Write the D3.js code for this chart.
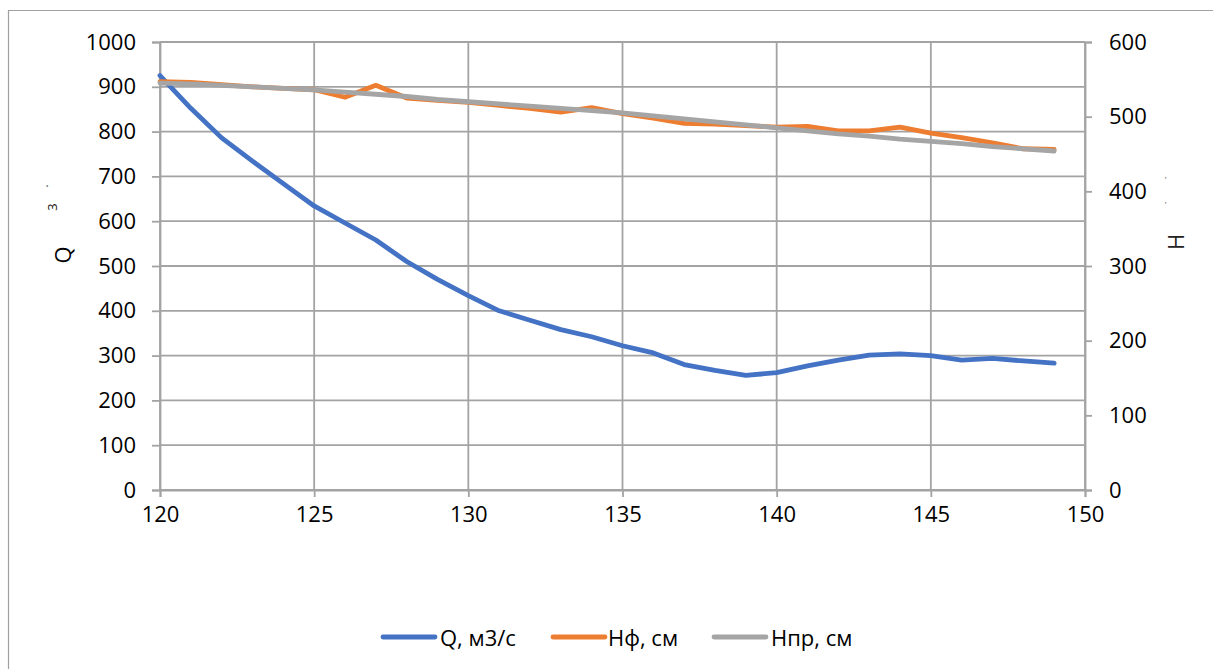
<!DOCTYPE html>
<html>
<head>
<meta charset="utf-8">
<script src="https://cdn.jsdelivr.net/npm/d3@7"></script>
<style>
  html, body { margin: 0; padding: 0; background: #fff; overflow: hidden; }
  svg { display: block; }
  svg text { font-family: "Open Sans", "Liberation Sans", sans-serif; fill: #000; }
</style>
</head>
<body>
<svg id="chart" width="1213" height="669"></svg>
<script>
// Abscissa values (cross-section / station numbers)
const xValues = [120,121,122,123,124,125,126,127,128,129,130,131,132,133,134,
                 135,136,137,138,139,140,141,142,143,144,145,146,147,148,149];

// Discharge Q, m3/s (left axis)
const qValues = [925,852,786,734,684,634,596,558,510,470,434,400,379,358,342,
                 322,306,280,267,256,262,277,290,301,304,300,290,294,288,283];

// Observed level Hф, cm (right axis)
const hfValues = [547,546,543,540,538,536,526,542,525,522,519,515,511,506,512,
                  504,498,491,490,488,486,487,481,481,486,478,472,465,457,456];

// Predicted level Hпр, cm (right axis)
const hpValues = [545,544,542,540,538,536,533,530,527,523,520,517,514,511,508,
                  505,501,497,493,489,485,481,477,474,470,467,464,460,457,454];

const xTicks = [120,125,130,135,140,145,150];
const leftTicks = [0,100,200,300,400,500,600,700,800,900,1000];
const rightTicks = [0,100,200,300,400,500,600];

const seriesNames = ["Q, м3/с", "Hф, см", "Hпр, см"];
const seriesColors = ["#4472C4", "#ED7D31", "#A5A5A5"];

const svg = d3.select("#chart");
const plot = { left: 160, right: 1085, top: 42, bottom: 490 };
const gridColor = "#a3a3a3";

// outer chart frame: only its left and top edges are in view
svg.append("path")
  .attr("d", "M8.5,669 V10.5 H1213")
  .attr("fill", "none").attr("stroke", "#a0a0a0").attr("stroke-width", 1.2);

const x = d3.scaleLinear().domain([120, 150]).range([plot.left, plot.right]);
const yL = d3.scaleLinear().domain([0, 1000]).range([plot.bottom, plot.top]);
const yR = d3.scaleLinear().domain([0, 600]).range([plot.bottom, plot.top]);

// horizontal gridlines
svg.append("g").selectAll("line").data(leftTicks).join("line")
  .attr("x1", plot.left).attr("x2", plot.right)
  .attr("y1", d => yL(d)).attr("y2", d => yL(d))
  .attr("stroke", gridColor).attr("stroke-width", 1.8);

// vertical gridlines
svg.append("g").selectAll("line").data(xTicks).join("line")
  .attr("x1", d => x(d)).attr("x2", d => x(d))
  .attr("y1", plot.top).attr("y2", plot.bottom)
  .attr("stroke", gridColor).attr("stroke-width", 1.8);

function styleAxis(g) {
  g.select(".domain").attr("stroke", gridColor).attr("stroke-width", 1.8);
  g.selectAll(".tick line").attr("stroke", gridColor).attr("stroke-width", 1.8);
  g.selectAll(".tick text")
    .attr("font-size", 22)
    .attr("fill", "#000");
}

// left axis
const gL = svg.append("g").attr("transform", `translate(${plot.left},0)`)
  .call(d3.axisLeft(yL).tickValues(leftTicks).tickSize(8).tickPadding(16).tickFormat(d3.format("d")));
styleAxis(gL);

// right axis
const gR = svg.append("g").attr("transform", `translate(${plot.right},0)`)
  .call(d3.axisRight(yR).tickValues(rightTicks).tickSize(7).tickPadding(17).tickFormat(d3.format("d")));
styleAxis(gR);

// bottom axis
const gB = svg.append("g").attr("transform", `translate(0,${plot.bottom})`)
  .call(d3.axisBottom(x).tickValues(xTicks).tickSize(7).tickPadding(9).tickFormat(d3.format("d")));
styleAxis(gB);

// axis titles
function vText(cx, cy, txt, size, fill) {
  svg.append("text")
    .attr("transform", `translate(${cx},${cy}) rotate(-90)`)
    .attr("text-anchor", "middle").attr("dominant-baseline", "central")
    .attr("font-size", size).style("fill", fill || "#000")
    .text(txt);
}
vText(62, 255, "Q", 22);
vText(52, 207, "3", 13, "#111");
vText(47, 186, "·", 12, "#444");
vText(1175, 242, "H", 22, "#222");
vText(1165, 203, "·", 10, "#555");
vText(1165, 178, "·", 10, "#555");

// series lines
const rows = xValues.map((v, i) => ({ x: v, q: qValues[i], hf: hfValues[i], hp: hpValues[i] }));
const lineQ = d3.line().x(d => x(d.x)).y(d => yL(d.q));
const lineHf = d3.line().x(d => x(d.x)).y(d => yR(d.hf));
const lineHp = d3.line().x(d => x(d.x)).y(d => yR(d.hp));

[[lineQ, 0], [lineHf, 1], [lineHp, 2]].forEach(([gen, i]) => {
  svg.append("path")
    .datum(rows)
    .attr("d", gen)
    .attr("fill", "none")
    .attr("stroke", seriesColors[i])
    .attr("stroke-width", 4.8)
    .attr("stroke-linejoin", "round")
    .attr("stroke-linecap", "round");
});

// legend
const legendItems = [
  { lx: 383, tx: 440 },
  { lx: 553, tx: 608 },
  { lx: 714, tx: 771 }
];
const legendY = 637;
legendItems.forEach((it, i) => {
  svg.append("line")
    .attr("x1", it.lx).attr("x2", it.lx + 52)
    .attr("y1", legendY).attr("y2", legendY)
    .attr("stroke", seriesColors[i]).attr("stroke-width", 4.8)
    .attr("stroke-linecap", "round");
  svg.append("text")
    .attr("x", it.tx).attr("y", legendY)
    .attr("dominant-baseline", "central")
    .attr("font-size", 22)
    .text(seriesNames[i]);
});
</script>
</body>
</html>
